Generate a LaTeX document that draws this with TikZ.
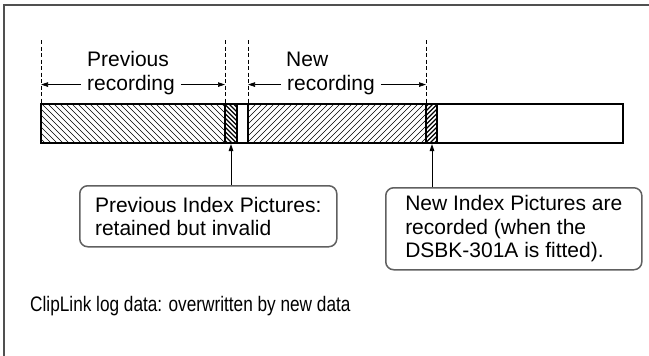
\documentclass[tikz,border=0pt]{standalone}
\usepackage{graphicx}
\usepackage{fontspec}
\setmainfont{Liberation Sans}
\usetikzlibrary{arrows.meta,positioning,calc}
\definecolor{Frame}{HTML}{505050}
\definecolor{Callout}{HTML}{606060}

\begin{document}
\begin{tikzpicture}[x=1pt,y=-1pt,
    font=\fontsize{21}{23.5}\selectfont,
    lbl/.style={inner xsep=6pt,inner ysep=0pt,anchor=base west},
    span/.style={-{Triangle[length=7pt,width=4.5pt]},line width=0.7pt},
    pin/.style={-{Triangle[length=7pt,width=4.5pt]},line width=0.9pt},
    guide/.style={dash pattern=on 4pt off 2.5pt,line width=0.9pt},
    hatch/.style={line width=0.7pt},
    dense/.style={line width=1.3pt},
    callout/.style={draw=Callout,line width=1.5pt,rounded corners=8pt,
      align=left,anchor=north west,inner ysep=0pt}]
  \useasboundingbox (0,0) rectangle (649,356);
  % frame, top and left only
  \draw[Frame,line width=1.6pt] (4,356) -- (4,5) -- (649,5);

  % guide lines
  \foreach \gx/\gn in {41/g1,225/g2,248/g3,426/g4}
    \draw[guide] (\gx,40) coordinate (\gn) -- (\gx,104);

  % tape hatching
  \begin{scope}
    \clip (41,104) rectangle (225,143);
    \foreach \hx in {0,6,...,228}
      \draw[hatch] (\hx,104) -- (\hx+39,143);
  \end{scope}
  \begin{scope}
    \clip (225,104) rectangle (237,143);
    \foreach \hx in {184,188.5,...,240}
      \draw[dense] (\hx,104) -- (\hx+39,143);
  \end{scope}
  \begin{scope}
    \clip (248,104) rectangle (426,143);
    \foreach \hx in {205,211,...,430}
      \draw[hatch] (\hx,143) -- (\hx+39,104);
  \end{scope}
  \begin{scope}
    \clip (426,104) rectangle (437,143);
    \foreach \hx in {385,389.5,...,440}
      \draw[dense] (\hx,143) -- (\hx+39,104);
  \end{scope}
  % tape outline
  \draw[line width=2pt] (41,104) rectangle (623,143);
  \foreach \bx in {225,237,248,426,437}
    \draw[line width=2pt] (\bx,104) -- (\bx,143);

  % spans
  \node[lbl,inner xsep=0pt] (prevtop) at (87,66.5) {Previous};
  \node[lbl] (prevrec) at (81,90) {recording};
  \draw[span] (prevrec.west) -- (prevrec.west -| g1);
  \draw[span] (prevrec.east) -- (prevrec.east -| g2);

  \node[lbl,inner xsep=0pt] (newtop) at (286,66.5) {New};
  \node[lbl] (newrec) at (281,90) {recording};
  \draw[span] (newrec.west) -- (newrec.west -| g3);
  \draw[span] (newrec.east) -- (newrec.east -| g4);

  % index picture callouts
  \coordinate (oldtip) at (231,144);
  \coordinate (newtip) at (432,144);
  \node[callout,inner xsep=15.3pt,minimum height=61pt] (oldidx)
    at (79,185) {Previous Index Pictures:\\retained but invalid};
  \node[callout,inner xsep=19.5pt,minimum height=82pt] (newidx)
    at (385,187) {New Index Pictures are\\recorded (when the\\DSBK-301A is fitted).};
  \draw[pin] (oldidx.north -| oldtip) -- (oldtip);
  \draw[pin] (newidx.north -| newtip) -- (newtip);

  \node[anchor=west,inner sep=0pt] (logdata) at (30,306)
    {\scalebox{0.82}[1]{ClipLink log data: overwritten by new data}};
\end{tikzpicture}
\end{document}
